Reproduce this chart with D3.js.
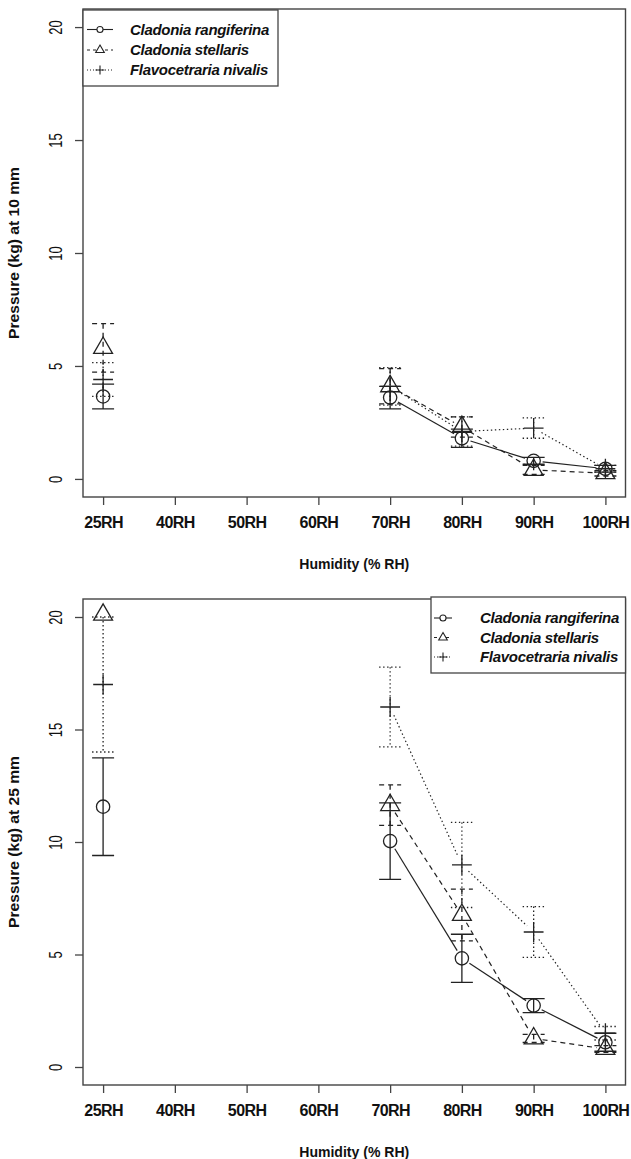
<!DOCTYPE html>
<html>
<head>
<meta charset="utf-8">
<script src="https://cdn.jsdelivr.net/npm/d3@7"></script>
<style>
  html, body { margin: 0; padding: 0; background: #fff; }
  svg { display: block; }
  text { font-family: "Liberation Sans", Arial, sans-serif; fill: #111; }
</style>
</head>
<body>
<svg id="chart" width="631" height="1159"></svg>
<script>
// ---------------- data ----------------
const categories = ["25RH", "40RH", "50RH", "60RH", "70RH", "80RH", "90RH", "100RH"];
const species = ["Cladonia rangiferina", "Cladonia stellaris", "Flavocetraria nivalis"];
const yTicks = [0, 5, 10, 15, 20];

// Pressure at 10 mm
const rangiferina10 = [3.65, null, null, null, 3.6, 1.8, 0.8, 0.45];
const rangiferina10Err = [0.55, null, null, null, 0.5, 0.4, 0.15, 0.15];
const stellaris10 = [5.8, null, null, null, 4.1, 2.3, 0.4, 0.25];
const stellaris10Err = [1.07, null, null, null, 0.78, 0.45, 0.2, 0.12];
const nivalis10 = [4.4, null, null, null, 4.1, 2.1, 2.25, 0.45];
const nivalis10Err = [0.75, null, null, null, 0.83, 0.65, 0.45, 0.15];

// Pressure at 25 mm
const rangiferina25 = [11.57, null, null, null, 10.04, 4.83, 2.73, 1.1];
const rangiferina25Err = [2.17, null, null, null, 1.7, 1.07, 0.31, 0.4];
const stellaris25 = [20.1, null, null, null, 11.64, 6.76, 1.27, 0.8];
const stellaris25Err = [0, null, null, null, 0.9, 1.15, 0.18, 0.15];
const nivalis25 = [17.0, null, null, null, 16.0, 8.98, 6.0, 1.5];
const nivalis25Err = [3.0, null, null, null, 1.77, 1.89, 1.13, 0.3];

// ---------------- styling ----------------
const INK = "#222";
const dashes = [null, "5,4", "1.4,2.6"];
const shapes = ["circle", "triangle", "plus"];

const svg = d3.select("#chart");

function symbolPath(shape, cx, cy, s) {
  if (shape === "circle") {
    const r = s * 0.95;
    return `M${cx - r},${cy}a${r},${r} 0 1,0 ${2 * r},0a${r},${r} 0 1,0 ${-2 * r},0Z`;
  }
  if (shape === "triangle") {
    const r = 1.555 * s, xc = 1.347 * s, yc = 0.778 * s;
    return `M${cx},${cy - r}L${cx + xc},${cy + yc}L${cx - xc},${cy + yc}Z`;
  }
  const a = 1.414 * s;
  return `M${cx - a},${cy}H${cx + a}M${cx},${cy - a}V${cy + a}`;
}

function drawPanel(cfg) {
  const { top, bottom, left, right, series, yTitle } = cfg;
  const x = d3.scalePoint().domain(categories).range([left, right]).padding(0.28);
  const y = d3.scaleLinear().domain([-0.8, 20.8]).range([bottom, top]);
  const g = svg.append("g");

  g.append("rect").attr("x", left).attr("y", top)
    .attr("width", right - left).attr("height", bottom - top)
    .attr("fill", "none").attr("stroke", "#444").attr("stroke-width", 1.4);

  // x axis
  const xa = g.append("g").attr("transform", `translate(0,${bottom})`)
    .call(d3.axisBottom(x).tickSize(8).tickSizeOuter(0).tickPadding(12));
  xa.select(".domain").remove();
  xa.selectAll("line").attr("stroke", "#444").attr("stroke-width", 1.3);
  xa.selectAll("text").attr("font-size", 16).attr("font-weight", "bold")
    .attr("fill", "#111").attr("letter-spacing", -0.6)
    .style("font-family", "'Liberation Sans', Arial, sans-serif");

  // y axis
  const ya = g.append("g").attr("transform", `translate(${left},0)`)
    .call(d3.axisLeft(y).tickValues(yTicks).tickSize(8).tickSizeOuter(0));
  ya.select(".domain").remove();
  ya.selectAll("line").attr("stroke", "#444").attr("stroke-width", 1.3);
  ya.selectAll("text")
    .attr("x", 0).attr("y", -28).attr("dy", "0.36em")
    .attr("transform", "rotate(-90)")
    .attr("text-anchor", "middle")
    .attr("font-size", 19).attr("fill", "#111")
    .attr("textLength", d => String(d).length * 7.2)
    .attr("lengthAdjust", "spacingAndGlyphs")
    .style("font-family", "'Liberation Sans', Arial, sans-serif");

  // axis titles
  g.append("text").attr("x", (left + right) / 2).attr("y", bottom + 72)
    .attr("text-anchor", "middle").attr("font-size", 14).attr("font-weight", "bold")
    .attr("textLength", 110).attr("lengthAdjust", "spacingAndGlyphs")
    .text("Humidity (% RH)");
  g.append("text")
    .attr("transform", `translate(19,${(top + bottom) / 2}) rotate(-90)`)
    .attr("text-anchor", "middle").attr("font-size", 14).attr("font-weight", "bold")
    .attr("textLength", 172).attr("lengthAdjust", "spacingAndGlyphs")
    .text(yTitle);

  const S = 7;
  const GAP = 9;
  const CAP = 11;

  series.forEach((sr, k) => {
    const dash = dashes[k];
    const pts = sr.values.map((v, i) => v == null ? null :
      { cx: x(categories[i]), cy: y(v), v, e: sr.errors[i] });

    for (let i = 0; i < pts.length - 1; i++) {
      const a = pts[i], b = pts[i + 1];
      if (!a || !b) continue;
      const dx = b.cx - a.cx, dy = b.cy - a.cy, L = Math.hypot(dx, dy);
      if (L <= 2 * GAP) continue;
      const ux = dx / L, uy = dy / L;
      g.append("line")
        .attr("x1", a.cx + ux * GAP).attr("y1", a.cy + uy * GAP)
        .attr("x2", b.cx - ux * GAP).attr("y2", b.cy - uy * GAP)
        .attr("stroke", INK).attr("stroke-width", 1.2)
        .attr("stroke-dasharray", dash);
    }

    pts.forEach(p => {
      if (!p || !p.e) return;
      const y1 = y(p.v + p.e), y2 = y(p.v - p.e);
      const path = `M${p.cx},${y1}V${y2}M${p.cx - CAP},${y1}H${p.cx + CAP}M${p.cx - CAP},${y2}H${p.cx + CAP}`;
      g.append("path").attr("d", path).attr("fill", "none")
        .attr("stroke", INK).attr("stroke-width", 1.3)
        .attr("stroke-dasharray", dash);
    });

    pts.forEach(p => {
      if (!p) return;
      g.append("path").attr("d", symbolPath(shapes[k], p.cx, p.cy, S))
        .attr("fill", "none").attr("stroke", INK).attr("stroke-width", 1.3);
    });
  });

  // legend
  const lg = cfg.legend;
  g.append("rect").attr("x", lg.x0).attr("y", lg.y0)
    .attr("width", lg.x1 - lg.x0).attr("height", lg.y1 - lg.y0)
    .attr("fill", "#fff").attr("stroke", "#444").attr("stroke-width", 1.3);
  species.forEach((name, k) => {
    const yy = lg.rows[k];
    g.append("line").attr("x1", lg.lx0).attr("x2", lg.lx1)
      .attr("y1", yy).attr("y2", yy)
      .attr("stroke", INK).attr("stroke-width", 1.1)
      .attr("stroke-dasharray", dashes[k] ? (k === 1 ? "3,3" : "1,2") : null);
    g.append("path").attr("d", symbolPath(shapes[k], lg.sx, yy, 3.2))
      .attr("fill", "#fff").attr("stroke", INK).attr("stroke-width", 1.1);
    g.append("text").attr("x", lg.tx).attr("y", yy).attr("dy", "0.36em")
      .attr("font-size", 15).attr("font-style", "italic").attr("font-weight", "bold")
      .attr("letter-spacing", -0.3)
      .text(name);
  });
}

drawPanel({
  top: 9, bottom: 497, left: 83, right: 625.5,
  yTitle: "Pressure (kg) at 10 mm",
  series: [
    { values: rangiferina10, errors: rangiferina10Err },
    { values: stellaris10, errors: stellaris10Err },
    { values: nivalis10, errors: nivalis10Err }
  ],
  legend: { x0: 83, y0: 10, x1: 278, y1: 86, rows: [29.5, 50, 70], lx0: 87, lx1: 113, sx: 100, tx: 130 }
});

drawPanel({
  top: 599, bottom: 1085, left: 83, right: 625.5,
  yTitle: "Pressure (kg) at 25 mm",
  series: [
    { values: rangiferina25, errors: rangiferina25Err },
    { values: stellaris25, errors: stellaris25Err },
    { values: nivalis25, errors: nivalis25Err }
  ],
  legend: { x0: 431, y0: 597, x1: 625.5, y1: 673, rows: [618, 637.5, 657], lx0: 434, lx1: 452, sx: 443, tx: 480 }
});
</script>
</body>
</html>
